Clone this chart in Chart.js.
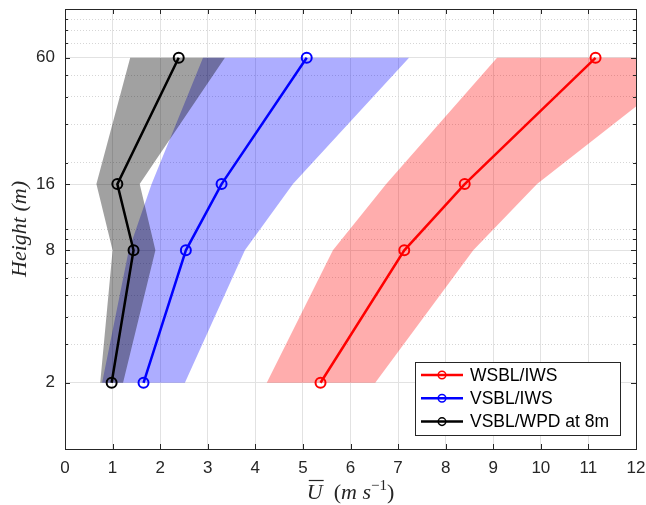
<!DOCTYPE html>
<html>
<head>
<meta charset="utf-8">
<script src="https://cdn.jsdelivr.net/npm/chart.js@4/dist/chart.umd.min.js"></script>
<style>
    html, body { margin: 0; padding: 0; background: #fff; }
    #contenedor { width: 646px; height: 505px; }
</style>
</head>
<body>
<div id="contenedor"><canvas id="graficaPerfil"></canvas></div>
<script>
let alturas = [2, 8, 16, 60];

let wsblMedia = [5.37, 7.13, 8.40, 11.15];
let wsblInf = [4.24, 5.63, 6.75, 9.08];
let wsblSup = [6.52, 8.58, 9.92, 13.3];

let vsblMedia = [1.65, 2.54, 3.29, 5.08];
let vsblInf = [0.78, 1.34, 1.82, 2.90];
let vsblSup = [2.52, 3.78, 4.79, 7.23];

let wpdMedia = [0.98, 1.44, 1.10, 2.39];
let wpdInf = [0.74, 1.00, 0.66, 1.37];
let wpdSup = [1.22, 1.90, 1.57, 3.36];

let etiquetas = ["WSBL/IWS", "VSBL/IWS", "VSBL/WPD at 8m"];
let colores = ["#ff0000", "#0000ff", "#000000"];
let coloresBanda = ["rgba(255,0,0,0.32)", "rgba(0,0,255,0.32)", "rgba(0,0,0,0.37)"];

let ticksX = [0, 1, 2, 3, 4, 5, 6, 7, 8, 9, 10, 11, 12];
let ticksY = [2, 8, 16, 60];
let ticksYMenores = [3, 4, 5, 6, 7, 9, 10, 20, 30, 40, 50, 70, 80, 90];

const colorEje = "#262626";
const fuenteTicks = { family: "Liberation Sans", size: 17 };

// poligono de la banda: limite inferior de abajo hacia arriba y superior de vuelta
function banda(inf, sup) {
    let pts = inf.map((v, i) => ({ x: v, y: alturas[i] }));
    for (let i = sup.length - 1; i >= 0; i--) {
        pts.push({ x: sup[i], y: alturas[i] });
    }
    return pts;
}

function perfil(valores) {
    return valores.map((v, i) => ({ x: v, y: alturas[i] }));
}

let bandas = [[wsblInf, wsblSup], [vsblInf, vsblSup], [wpdInf, wpdSup]];
let medias = [wsblMedia, vsblMedia, wpdMedia];

let datasets = [];
bandas.forEach((b, i) => {
    datasets.push({
        data: banda(b[0], b[1]),
        backgroundColor: coloresBanda[i],
        borderWidth: 0,
        pointRadius: 0,
        fill: "shape",
        order: 6 - i
    });
});
medias.forEach((m, i) => {
    datasets.push({
        label: etiquetas[i],
        data: perfil(m),
        borderColor: colores[i],
        borderWidth: 2.5,
        pointRadius: 5,
        pointBorderWidth: 2,
        pointBackgroundColor: "rgba(0,0,0,0)",
        pointBorderColor: colores[i],
        fill: false,
        order: 3 - i
    });
});

// ticks hacia adentro, caja de ejes y leyenda
const marcoEjes = {
    id: "marcoEjes",
    afterDraw(chart) {
        let ctx = chart.ctx;
        let a = chart.chartArea;
        let sx = chart.scales.x, sy = chart.scales.y;
        ctx.save();
        ctx.strokeStyle = colorEje;
        ctx.lineWidth = 1;
        ctx.beginPath();
        ticksX.forEach(t => {
            let px = Math.round(sx.getPixelForValue(t)) + 0.5;
            ctx.moveTo(px, a.bottom); ctx.lineTo(px, a.bottom - 5);
            ctx.moveTo(px, a.top); ctx.lineTo(px, a.top + 5);
        });
        ticksY.forEach(t => {
            let py = Math.round(sy.getPixelForValue(t)) + 0.5;
            ctx.moveTo(a.left, py); ctx.lineTo(a.left + 5, py);
            ctx.moveTo(a.right, py); ctx.lineTo(a.right - 5, py);
        });
        ticksYMenores.forEach(t => {
            let py = Math.round(sy.getPixelForValue(t)) + 0.5;
            ctx.moveTo(a.left, py); ctx.lineTo(a.left + 3, py);
            ctx.moveTo(a.right, py); ctx.lineTo(a.right - 3, py);
        });
        ctx.stroke();
        ctx.strokeRect(Math.round(a.left) + 0.5, Math.round(a.top) + 0.5,
            Math.round(a.right - a.left), Math.round(a.bottom - a.top));

        // titulo del eje x: U con barra (m s^-1)
        let partes = [
            { t: "U", f: "italic 22px 'Liberation Serif'", dy: 0 },
            { t: "\u2002(", f: "22px 'Liberation Serif'", dy: 0 },
            { t: "m", f: "italic 22px 'Liberation Serif'", dy: 0 },
            { t: " ", f: "22px 'Liberation Serif'", dy: 0 },
            { t: "s", f: "italic 22px 'Liberation Serif'", dy: 0 },
            { t: "\u22121", f: "15px 'Liberation Serif'", dy: -9 },
            { t: ")", f: "22px 'Liberation Serif'", dy: 0 }
        ];
        let total = 0;
        partes.forEach(p => { ctx.font = p.f; p.w = ctx.measureText(p.t).width; total += p.w; });
        let cx = (a.left + a.right) / 2 - total / 2;
        let base = 499;
        ctx.fillStyle = colorEje;
        ctx.textBaseline = "alphabetic";
        ctx.textAlign = "left";
        partes.forEach((p, i) => {
            ctx.font = p.f;
            ctx.fillText(p.t, cx, base + p.dy);
            if (i === 0) {
                ctx.beginPath();
                ctx.lineWidth = 1.2;
                ctx.moveTo(cx + 2, base - 18.5);
                ctx.lineTo(cx + p.w + 1, base - 18.5);
                ctx.stroke();
            }
            cx += p.w;
        });

        // leyenda
        let lx = 415, ly = 362, lw = 205, lh = 73;
        ctx.fillStyle = "#ffffff";
        ctx.fillRect(lx, ly, lw, lh);
        ctx.lineWidth = 1;
        ctx.strokeStyle = colorEje;
        ctx.strokeRect(lx + 0.5, ly + 0.5, lw, lh);
        ctx.font = "17.5px 'Liberation Sans'";
        ctx.textBaseline = "middle";
        etiquetas.forEach((et, i) => {
            let y = 375 + i * 23.3;
            ctx.strokeStyle = colores[i];
            ctx.lineWidth = 2.5;
            ctx.beginPath();
            ctx.moveTo(421, y); ctx.lineTo(463, y);
            ctx.stroke();
            ctx.lineWidth = 1.5;
            ctx.beginPath();
            ctx.arc(442, y, 3.8, 0, Math.PI * 2);
            ctx.stroke();
            ctx.fillStyle = "#000";
            ctx.fillText(et, 470, y + 1);
        });
        ctx.restore();
    }
};

new Chart(document.getElementById("graficaPerfil"), {
    type: "line",
    data: { datasets: datasets },
    plugins: [marcoEjes],
    options: {
        responsive: true,
        maintainAspectRatio: false,
        animation: false,
        layout: { padding: { top: 9, right: 10, left: 0, bottom: 0 } },
        plugins: {
            legend: { display: false },
            tooltip: { enabled: false }
        },
        scales: {
            x: {
                type: "linear",
                min: 0,
                max: 12,
                afterBuildTicks: s => { s.ticks = ticksX.map(v => ({ value: v })); },
                afterFit: s => { s.height = 56; s.paddingLeft = 0; s.paddingRight = 0; },
                grid: { color: "#e2e2e2", drawTicks: false },
                border: { display: false },
                ticks: { font: fuenteTicks, color: colorEje, padding: 9, maxRotation: 0 }
            },
            y: {
                type: "logarithmic",
                min: 1,
                max: 100,
                afterBuildTicks: s => { s.ticks = ticksY.map(v => ({ value: v })); },
                afterFit: s => { s.width = 65; s.paddingTop = 0; s.paddingBottom = 0; },
                grid: { color: "#e2e2e2", drawTicks: false },
                border: { display: false },
                ticks: { font: fuenteTicks, color: colorEje, padding: 10, callback: v => String(v) },
                title: {
                    display: true,
                    text: "Height (m)",
                    color: colorEje,
                    font: { family: "Liberation Serif", size: 22, style: "italic" },
                    padding: { top: 7 }
                }
            },
            y2: {
                type: "logarithmic",
                position: "left",
                min: 1,
                max: 100,
                afterBuildTicks: s => { s.ticks = ticksYMenores.map(v => ({ value: v })); },
                afterFit: s => { s.width = 0; s.paddingTop = 0; s.paddingBottom = 0; },
                grid: { color: "#d6d6d6", drawTicks: false },
                border: { display: false, dash: [1, 2] },
                ticks: { display: false }
            }
        }
    }
});
</script>
</body>
</html>
